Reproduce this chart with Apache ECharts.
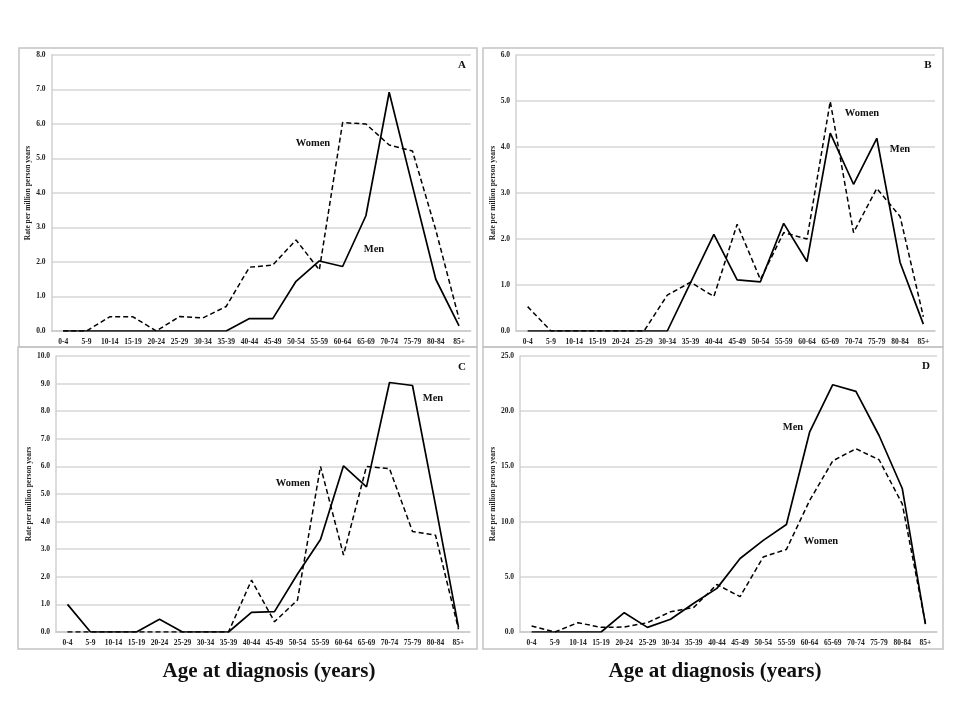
<!DOCTYPE html>
<html>
<head>
    <meta charset="utf-8">
    <title>Age at diagnosis</title>
    <script src="https://cdn.jsdelivr.net/npm/echarts@6/dist/echarts.min.js"></script>
    <style>
        body { margin: 0; background: #fff; }
    </style>
</head>
<body>
    <div id="main" style="width: 960px;height:720px;"></div>
    <script type="text/javascript">
        // age groups (x axis)
        var ageGroups = ['0-4', '5-9', '10-14', '15-19', '20-24', '25-29', '30-34', '35-39', '40-44',
            '45-49', '50-54', '55-59', '60-64', '65-69', '70-74', '75-79', '80-84', '85+'];

        // panel A
        var menA = [0, 0, 0, 0, 0, 0, 0, 0, 0.36, 0.36, 1.44, 2.03, 1.87, 3.34, 6.92, 4.2, 1.5, 0.15];
        var womenA = [0, 0, 0.41, 0.41, 0, 0.42, 0.38, 0.71, 1.85, 1.91, 2.64, 1.77, 6.04, 6.0, 5.39, 5.22, 2.93, 0.35];
        // panel B
        var menB = [0, 0, 0, 0, 0, 0, 0, 1.05, 2.1, 1.11, 1.07, 2.34, 1.51, 4.3, 3.19, 4.19, 1.49, 0.15];
        var womenB = [0.53, 0, 0, 0, 0, 0, 0.78, 1.06, 0.75, 2.32, 1.12, 2.14, 2.0, 4.99, 2.14, 3.1, 2.49, 0.31];
        // panel C
        var menC = [1.0, 0, 0, 0, 0.46, 0, 0, 0, 0.71, 0.74, 2.1, 3.35, 6.02, 5.26, 9.04, 8.93, 4.6, 0.17];
        var womenC = [0, 0, 0, 0, 0, 0, 0, 0, 1.88, 0.37, 1.16, 6.0, 2.79, 6.0, 5.92, 3.64, 3.51, 0.1];
        // panel D
        var menD = [0, 0, 0, 0, 1.75, 0.42, 1.15, 2.6, 3.95, 6.66, 8.3, 9.74, 18.1, 22.4, 21.8, 17.8, 13.0, 0.72];
        var womenD = [0.54, 0, 0.84, 0.42, 0.45, 0.84, 1.84, 2.23, 4.3, 3.2, 6.8, 7.48, 11.9, 15.5, 16.6, 15.6, 11.6, 0.78];

        // y axis maxima / steps
        var yMax = [8, 6, 10, 25];
        var yStep = [1, 1, 1, 5];

        var serif = '"Liberation Serif", "DejaVu Serif", serif';
        var myChart = echarts.init(document.getElementById('main'));

        var grids = [
            { left: 51.5, right: 489.3, top: 55, bottom: 389 },
            { left: 516, right: 25, top: 55, bottom: 389 },
            { left: 56, right: 490, top: 356, bottom: 88 },
            { left: 520, right: 23, top: 356, bottom: 88 }
        ];

        var xAxes = [], yAxes = [], series = [];
        var menAll = [menA, menB, menC, menD];
        var womenAll = [womenA, womenB, womenC, womenD];

        for (var i = 0; i < 4; i++) {
            xAxes.push({
                type: 'category',
                gridIndex: i,
                data: ageGroups,
                axisTick: { show: false },
                axisLine: { lineStyle: { color: '#c8c8c8', width: 1.5 } },
                axisLabel: {
                    interval: 0, margin: 7, color: '#222',
                    fontFamily: serif, fontWeight: 'bold', fontSize: 7.5
                }
            });
            yAxes.push({
                type: 'value',
                gridIndex: i,
                min: 0,
                max: yMax[i],
                interval: yStep[i],
                name: 'Rate per million person years',
                nameLocation: 'middle',
                nameGap: 16,
                nameTextStyle: { fontFamily: serif, fontWeight: 'bold', fontSize: 7.5, color: '#222' },
                axisLine: { show: true, lineStyle: { color: '#d0d0d0', width: 1.5 } },
                axisTick: { show: false },
                splitLine: { lineStyle: { color: '#d6d6d6', width: 1.5 } },
                axisLabel: {
                    margin: 6, color: '#222',
                    fontFamily: serif, fontWeight: 'bold', fontSize: 7.5,
                    formatter: function (v) { return v.toFixed(1); }
                }
            });
            series.push({
                name: 'Men',
                type: 'line',
                xAxisIndex: i,
                yAxisIndex: i,
                symbol: 'none',
                lineStyle: { color: '#000', width: 1.7 },
                data: menAll[i]
            });
            series.push({
                name: 'Women',
                type: 'line',
                xAxisIndex: i,
                yAxisIndex: i,
                symbol: 'none',
                lineStyle: { color: '#000', width: 1.5, type: [5, 3] },
                data: womenAll[i]
            });
        }

        function panelBox(x, y, w, h) {
            return {
                type: 'rect', silent: true, z: -1,
                shape: { x: x, y: y, width: w, height: h },
                style: { fill: 'none', stroke: '#c4c4c4', lineWidth: 1.5 }
            };
        }
        function label(text, x, y, size) {
            return {
                type: 'text', silent: true, z: 100,
                x: x, y: y,
                style: {
                    text: text, fill: '#111', align: 'center', verticalAlign: 'middle',
                    font: 'bold ' + (size || 10.5) + 'px ' + serif
                }
            };
        }

        var option = {
            animation: false,
            backgroundColor: '#fff',
            grid: grids,
            xAxis: xAxes,
            yAxis: yAxes,
            series: series,
            graphic: [
                panelBox(19, 48, 458, 299),
                panelBox(483, 48, 460, 299),
                panelBox(18, 347, 459, 302),
                panelBox(483, 347, 460, 302),
                // panel letters
                label('A', 462, 65, 11), label('B', 928, 65, 11),
                label('C', 462, 367, 11), label('D', 926, 366, 11),
                // series labels
                label('Women', 313, 143), label('Men', 374, 249),
                label('Women', 862, 113), label('Men', 900, 149),
                label('Men', 433, 398), label('Women', 293, 483),
                label('Men', 793, 427), label('Women', 821, 541),
                // x titles
                label('Age at diagnosis (years)', 269, 672, 21),
                label('Age at diagnosis (years)', 715, 672, 21)
            ]
        };

        myChart.setOption(option);
    </script>
</body>
</html>
